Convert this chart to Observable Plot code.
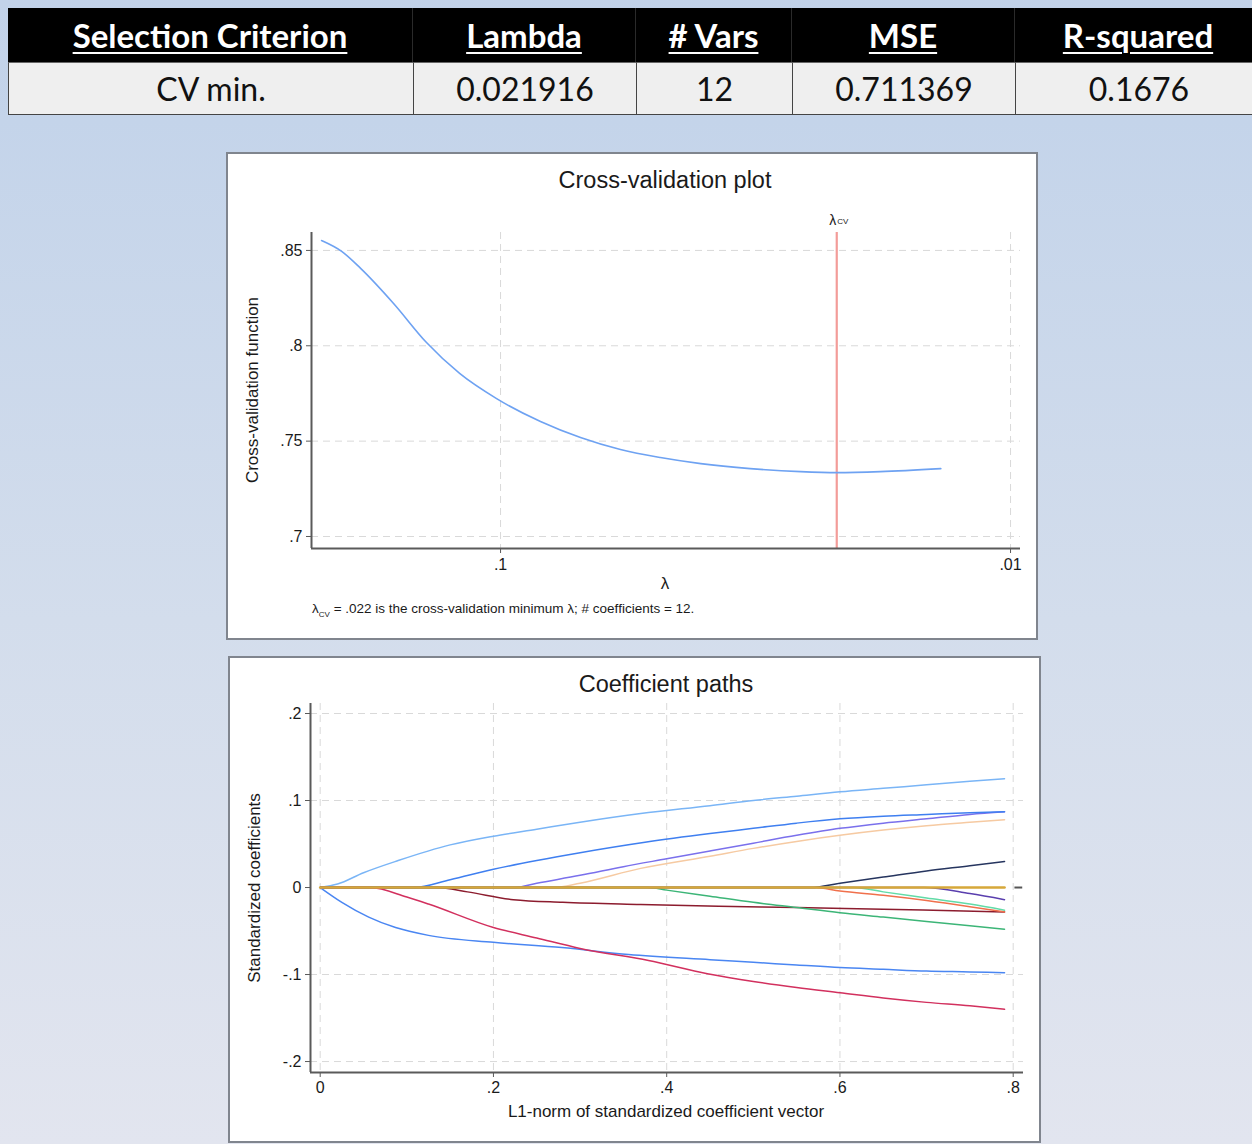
<!DOCTYPE html>
<html>
<head>
<meta charset="utf-8">
<script src="https://cdn.jsdelivr.net/npm/d3@7"></script>
<script src="https://cdn.jsdelivr.net/npm/@observablehq/plot@0.6"></script>
<style>
  html, body { margin: 0; padding: 0; }
  body {
    width: 1252px; height: 1144px; overflow: hidden; position: relative;
    background: linear-gradient(to bottom, #c2d2e9 0px, #c4d4ea 120px, #d3ddec 620px, #e2e5ef 1144px);
    font-family: "Liberation Sans", Arial, sans-serif;
  }
  .abs { position: absolute; }
  .cell { position: absolute; box-sizing: border-box; display: flex; align-items: center; justify-content: center; font-family: Lato, "Open Sans", sans-serif; }
  .hdr { background: #000; color: #fff; font-weight: 700; font-size: 33px; text-decoration: underline; text-decoration-thickness: 2px; text-underline-offset: 4px; border-right: 1px solid #2a2a2a; }
  .val { background: #efefef; color: #111; font-size: 32px; border: 1px solid #444; border-top: 1px solid #666; }
  .panel { position: absolute; box-sizing: border-box; background: #fff; border: 2px solid #80858e; }
  .lbl { position: absolute; transform: translate(-50%, -50%); white-space: nowrap; color: #1a1a1a; }
  .rot { transform: translate(-50%, -50%) rotate(-90deg); }
  svg { position: absolute; }
</style>
</head>
<body>
<div id="table"></div>

<div class="panel" style="left:226px; top:152px; width:812px; height:488px;"></div>
<div class="panel" style="left:228px; top:656px; width:813px; height:487px;"></div>

<div class="lbl" style="left:665px; top:180px; font-size:23.5px;">Cross-validation plot</div>
<div class="lbl rot" style="left:253px; top:390px; font-size:17px;">Cross-validation function</div>
<div class="lbl" style="left:665px; top:584px; font-size:17px;">λ</div>
<div class="abs" style="left:312px; top:601px; font-size:13.5px; color:#1a1a1a; white-space:nowrap;">λ<sub style="font-size:8px;">CV</sub> = .022 is the cross-validation minimum λ; # coefficients = 12.</div>

<div class="lbl" style="left:666px; top:684px; font-size:23.5px;">Coefficient paths</div>
<div class="lbl rot" style="left:255px; top:888px; font-size:17px;">Standardized coefficients</div>
<div class="lbl" style="left:666px; top:1112px; font-size:17px;">L1-norm of standardized coefficient vector</div>

<div id="cv"></div>
<div id="coef"></div>

<script>
// ---------- Table data ----------
const tableHeaders = ["Selection Criterion", "Lambda", "# Vars", "MSE", "R-squared"];
const tableValues = ["CV min.", "0.021916", "12", "0.711369", "0.1676"];

// ---------- Cross-validation data ----------
const cvLambda = [0.2244, 0.2049, 0.1881, 0.1621, 0.1397, 0.1203, 0.1018, 0.0835, 0.0697, 0.0582, 0.0486, 0.0405, 0.0324, 0.0258, 0.0219, 0.0180, 0.0137];
const cvError  = [0.8552, 0.8495, 0.8406, 0.8222, 0.8017, 0.7855, 0.7723, 0.7603, 0.7519, 0.7456, 0.7414, 0.7382, 0.7356, 0.7340, 0.7335, 0.7340, 0.7356];
const lambdaCV = 0.021916;
const cvYTicks = [0.7, 0.75, 0.8, 0.85];
const cvXTicks = [0.1, 0.01];

// ---------- Coefficient path data: [L1 norm, standardized coefficient] ----------
const pathLightBlue = [[0,0],[0.02,0.004],[0.05,0.017],[0.09,0.031],[0.15,0.049],[0.2,0.059],[0.25,0.067],[0.3,0.075],[0.37,0.085],[0.45,0.094],[0.5,0.100],[0.55,0.105],[0.6,0.110],[0.65,0.114],[0.7,0.118],[0.75,0.122],[0.79,0.125]];
const pathBlue = [[0,0],[0.108,0],[0.15,0.009],[0.2,0.021],[0.25,0.031],[0.3,0.040],[0.375,0.052],[0.45,0.062],[0.5,0.068],[0.55,0.074],[0.6,0.079],[0.65,0.082],[0.7,0.084],[0.75,0.086],[0.79,0.087]];
const pathSlate = [[0,0],[0.224,0],[0.25,0.005],[0.3,0.014],[0.35,0.024],[0.4,0.033],[0.45,0.042],[0.5,0.051],[0.55,0.060],[0.6,0.068],[0.65,0.074],[0.7,0.079],[0.75,0.084],[0.79,0.087]];
const pathPeach = [[0,0],[0.27,0],[0.3,0.005],[0.37,0.022],[0.45,0.036],[0.5,0.045],[0.55,0.053],[0.6,0.060],[0.65,0.066],[0.7,0.071],[0.75,0.075],[0.79,0.078]];
const pathNavy = [[0,0],[0.566,0],[0.6,0.005],[0.65,0.012],[0.7,0.019],[0.75,0.025],[0.79,0.030]];
const pathIndigo = [[0,0],[0.697,0],[0.75,-0.007],[0.79,-0.014]];
const pathMint = [[0,0],[0.616,0],[0.65,-0.005],[0.7,-0.012],[0.75,-0.019],[0.79,-0.026]];
const pathOrange = [[0,0],[0.57,0],[0.6,-0.004],[0.65,-0.009],[0.7,-0.015],[0.75,-0.022],[0.79,-0.028]];
const pathMaroon = [[0,0],[0.135,0],[0.17,-0.005],[0.223,-0.014],[0.28,-0.017],[0.37,-0.0195],[0.46,-0.0215],[0.55,-0.023],[0.65,-0.025],[0.79,-0.028]];
const pathGreen = [[0,0],[0.378,0],[0.4,-0.003],[0.45,-0.010],[0.5,-0.017],[0.55,-0.023],[0.6,-0.029],[0.65,-0.034],[0.7,-0.039],[0.75,-0.044],[0.79,-0.048]];
const pathBlueLow = [[0,0],[0.025,-0.017],[0.056,-0.034],[0.087,-0.046],[0.125,-0.055],[0.2,-0.063],[0.279,-0.069],[0.356,-0.077],[0.45,-0.083],[0.5,-0.086],[0.55,-0.089],[0.6,-0.092],[0.65,-0.094],[0.7,-0.096],[0.75,-0.097],[0.79,-0.098]];
const pathCrimson = [[0,0],[0.058,0],[0.1,-0.011],[0.125,-0.019],[0.2,-0.046],[0.25,-0.058],[0.3,-0.070],[0.379,-0.084],[0.447,-0.099],[0.5,-0.108],[0.55,-0.115],[0.6,-0.121],[0.65,-0.127],[0.7,-0.132],[0.75,-0.136],[0.79,-0.140]];
const pathGold = [[0,0],[0.79,0]];
const coefXTicks = [0, 0.2, 0.4, 0.6, 0.8];
const coefYTicks = [-0.2, -0.1, 0, 0.1, 0.2];

// ---------- styles ----------
const seriesList = [
  {d: pathLightBlue, c: "#7ab5f6"},
  {d: pathPeach, c: "#f6caa2"},
  {d: pathSlate, c: "#7a70ec"},
  {d: pathBlue, c: "#3f7ff0"},
  {d: pathMaroon, c: "#8c1c2e"},
  {d: pathGreen, c: "#3cb577"},
  {d: pathMint, c: "#62dba7"},
  {d: pathOrange, c: "#f0704c"},
  {d: pathNavy, c: "#26355f"},
  {d: pathIndigo, c: "#5a3fae"},
  {d: pathBlueLow, c: "#4a86f2"},
  {d: pathCrimson, c: "#d2305e"},
  {d: pathGold, c: "#d6a83a", w: 2.6}
];

const fmt = d => d === 0 ? "0" : d3.format("~g")(d).replace("\u2212", "-").replace("0.", ".");

// ---------- table ----------
const colEdges = [8, 413, 636, 792, 1015, 1262];
const tbl = document.getElementById("table");
tableHeaders.forEach((h, i) => {
  const el = document.createElement("div");
  el.className = "cell hdr";
  Object.assign(el.style, {left: colEdges[i] + "px", top: "8px", width: (colEdges[i+1] - colEdges[i]) + "px", height: "54px"});
  el.textContent = h;
  tbl.appendChild(el);
});
tableValues.forEach((v, i) => {
  const el = document.createElement("div");
  el.className = "cell val";
  Object.assign(el.style, {left: colEdges[i] + "px", top: "62px", width: (colEdges[i+1] - colEdges[i] + 1) + "px", height: "53px"});
  el.textContent = v;
  tbl.appendChild(el);
});

const axisColor = "#5a5a5a";
const gridStyle = {stroke: "#d9d9d9", strokeOpacity: 1, strokeDasharray: "7,5", strokeWidth: 1};
const plotStyle = {fontFamily: "Liberation Sans, Arial, sans-serif", fontSize: "16px", background: "transparent", color: "#1a1a1a", overflow: "visible"};

// ---------- Cross-validation plot ----------
const cvData = cvLambda.map((l, i) => ({lambda: l, cv: cvError[i]}));
const cvXDomain = [0.2348, 0.00956];
const cvYDomain = [0.6937, 0.8594];
const cvPlot = Plot.plot({
  width: 812, height: 488,
  marginLeft: 85, marginRight: 18, marginTop: 80, marginBottom: 92,
  style: plotStyle,
  x: {type: "log", domain: cvXDomain},
  y: {domain: cvYDomain},
  marks: [
    Plot.gridY(cvYTicks, gridStyle),
    Plot.gridX(cvXTicks, gridStyle),
    Plot.ruleX([lambdaCV], {stroke: "#f39c99", strokeWidth: 2.2}),
    Plot.line(cvData, {x: "lambda", y: "cv", stroke: "#6ea2f2", strokeWidth: 1.6, curve: "monotone-x"}),
    Plot.ruleX([cvXDomain[0]], {stroke: axisColor, strokeWidth: 2}),
    Plot.ruleY([cvYDomain[0]], {stroke: axisColor, strokeWidth: 2}),
    Plot.axisY(cvYTicks, {tickFormat: fmt, tickSize: 5, tickPadding: 4, label: null, stroke: axisColor}),
    Plot.axisX(cvXTicks, {tickFormat: fmt, tickSize: 5, tickPadding: 5, label: null, stroke: axisColor}),
    Plot.text([lambdaCV], {x: d => d, text: () => "λ", frameAnchor: "top", dy: -17, dx: -4, fontSize: 14}),
    Plot.text([lambdaCV], {x: d => d, text: () => "CV", frameAnchor: "top", dy: -14, dx: 6, fontSize: 8})
  ]
});
cvPlot.style.left = "226px"; cvPlot.style.top = "152px";
document.getElementById("cv").appendChild(cvPlot);

// ---------- Coefficient paths ----------
const coefXDomain = [-0.0112, 0.8119];
const coefYDomain = [-0.2126, 0.2115];
const coefPlot = Plot.plot({
  width: 813, height: 487,
  marginLeft: 82, marginRight: 18, marginTop: 47, marginBottom: 71,
  style: plotStyle,
  x: {domain: coefXDomain},
  y: {domain: coefYDomain},
  marks: [
    Plot.gridY(coefYTicks.filter(t => t !== 0), gridStyle),
    Plot.gridX(coefXTicks, gridStyle),
    ...seriesList.map(s => Plot.line(s.d, {x: d => d[0], y: d => d[1], stroke: s.c, strokeWidth: s.w || 1.5, curve: "monotone-x"})),
    Plot.ruleY([0], {x1: 0.802, x2: 0.811, stroke: "#555", strokeWidth: 2}),
    Plot.ruleX([coefXDomain[0]], {stroke: axisColor, strokeWidth: 2}),
    Plot.ruleY([coefYDomain[0]], {stroke: axisColor, strokeWidth: 2}),
    Plot.axisY(coefYTicks, {tickFormat: fmt, tickSize: 5, tickPadding: 4, label: null, stroke: axisColor}),
    Plot.axisX(coefXTicks, {tickFormat: fmt, tickSize: 5, tickPadding: 4, label: null, stroke: axisColor})
  ]
});
coefPlot.style.left = "228px"; coefPlot.style.top = "656px";
document.getElementById("coef").appendChild(coefPlot);
</script>
</body>
</html>
